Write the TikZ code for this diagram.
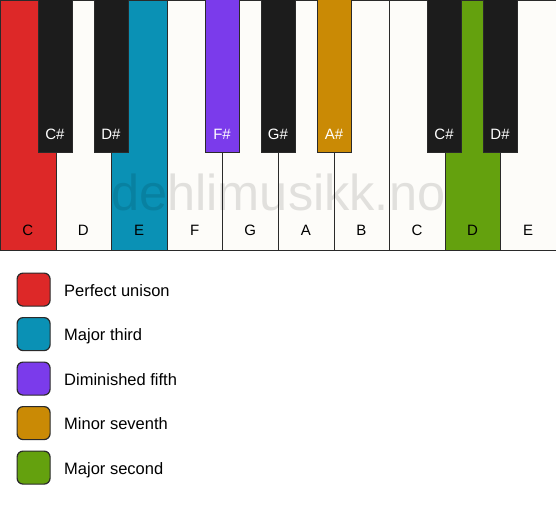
\documentclass[tikz,border=0pt]{standalone}
\usepackage{fontspec}
\setmainfont{Liberation Sans}
\definecolor{cRed}{HTML}{DD2828}
\definecolor{cBlue}{HTML}{0A91B5}
\definecolor{cPurple}{HTML}{7B3BEB}
\definecolor{cOrange}{HTML}{CA8A05}
\definecolor{cGreen}{HTML}{64A10E}
\definecolor{cWhite}{HTML}{FDFCF9}
\definecolor{cBlack}{HTML}{1C1C1C}
\definecolor{cLine}{HTML}{2A2A2A}
\begin{document}
\begin{tikzpicture}[x=1pt,y=-1pt,
  whitekey/.style={draw=cLine,line width=1pt,fill=#1,minimum width=55.6pt,minimum height=250pt,inner sep=0pt,anchor=north west},
  blackkey/.style={draw=cLine,line width=0.8pt,fill=#1,minimum width=34pt,minimum height=153pt,inner sep=0pt,anchor=north west},
  wlabel/.style={font=\fontsize{15}{17}\selectfont,text=black,anchor=base,inner sep=0pt},
  blabel/.style={font=\fontsize{15}{17}\selectfont,text=white,anchor=base,inner sep=0pt},
  swatch/.style={draw=cLine,line width=1.2pt,fill=#1,rounded corners=6pt,minimum width=33pt,minimum height=33pt,inner sep=0pt,anchor=north west},
  legtext/.style={font=\fontsize{16.5}{19}\selectfont,anchor=base west,inner sep=0pt}]
\useasboundingbox (0,0) rectangle (556,506);
\fill[white] (0,0) rectangle (556,506);
% white keys
\foreach \i/\c/\n in {0/cRed/C,1/cWhite/D,2/cBlue/E,3/cWhite/F,4/cWhite/G,5/cWhite/A,6/cWhite/B,7/cWhite/C,8/cGreen/D,9/cWhite/E}{
  \node[whitekey=\c] (w\i) at (\i*55.6,0) {};
  \node[wlabel] (wl\i) at (\i*55.6+27.8,235.5) {\n};
}
% watermark
\node[anchor=base west,inner sep=0pt,text=black,text opacity=0.11,font=\fontsize{50.5}{52}\selectfont] (wm) at (111,210) {dehlimusikk.no};
% black keys
\foreach \x/\c/\n [count=\k] in {38/cBlack/C\#,94/cBlack/D\#,205/cPurple/F\#,261/cBlack/G\#,317/cOrange/A\#,427/cBlack/C\#,483/cBlack/D\#}{
  \node[blackkey=\c] (b\k) at (\x,-1) {};
  \node[blabel] (bl\k) at (\x+17,139) {\n};
}
% legend
\foreach \c/\t [count=\k] in {cRed/Perfect unison,cBlue/Major third,cPurple/Diminished fifth,cOrange/Minor seventh,cGreen/Major second}{
  \node[swatch=\c] (s\k) at (16.5,272.5+44.5*\k-44.5) {};
  \node[legtext] (t\k) at (64,296+44.5*\k-44.5) {\t};
}
\end{tikzpicture}
\end{document}
